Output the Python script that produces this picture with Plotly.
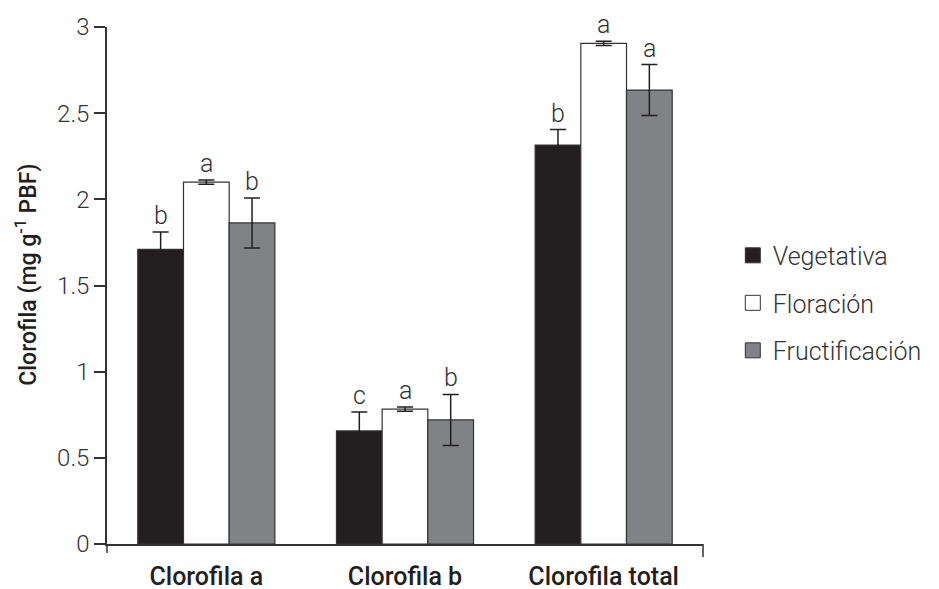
import plotly.graph_objects as go

categories = ["Clorofila a", "Clorofila b", "Clorofila total"]
series_names = ["Vegetativa", "Floración", "Fructificación"]
vegetativa = [1.71, 0.656, 2.315]
floracion = [2.10, 0.783, 2.905]
fructificacion = [1.863, 0.72, 2.634]
err_veg = [0.10, 0.11, 0.09]
err_flo = [0.012, 0.012, 0.012]
err_fru = [0.145, 0.148, 0.148]
letters_veg = ["b", "c", "b"]
letters_flo = ["a", "a", "a"]
letters_fru = ["b", "b", "a"]
y_ticks = [0, 0.5, 1, 1.5, 2, 2.5, 3]
y_tick_labels = ["0", "0.5", "1", "1.5", "2", "2.5", "3"]

values = [vegetativa, floracion, fructificacion]
errors = [err_veg, err_flo, err_fru]
letters = [letters_veg, letters_flo, letters_fru]
fills = ["#231f20", "#ffffff", "#808285"]

INK = "#231f20"
LIGHT = dict(family="Roboto", size=25, color="#333333", weight=300)
TICK = dict(family="Roboto", size=24, color="#333333", weight=300)

bargap = 0.31
bw = (1 - bargap) / 3
xpos = list(range(len(categories)))

fig = go.Figure()
for j, name in enumerate(series_names):
    fig.add_trace(go.Bar(
        x=xpos, y=values[j], name=name, offsetgroup=str(j),
        marker=dict(color=fills[j], line=dict(color="#333333", width=1.2)),
        error_y=dict(type="data", array=errors[j], visible=True,
                     color=INK, thickness=1.5, width=8),
        showlegend=False,
    ))
    # legend swatches
    fig.add_trace(go.Scatter(
        x=[None], y=[None], mode="markers", name=name, legendgroup=name,
        marker=dict(symbol="square", size=15, color=fills[j],
                    line=dict(color="#333333", width=1)),
    ))

annotations = []
for j in range(3):
    for i in xpos:
        annotations.append(dict(
            x=i + (j - 1) * bw, y=values[j][i] + errors[j][i], xref="x", yref="y",
            text=letters[j][i], showarrow=False, yanchor="bottom", yshift=0,
            font=LIGHT,
        ))

annotations.append(dict(
    x=-0.1349, y=0.52, xref="paper", yref="paper",
    text="Clorofila (mg g<sup>-1</sup> PBF)", textangle=-90, showarrow=False,
    xanchor="center", yanchor="middle",
    font=dict(family="Roboto", size=23, color=INK, weight=500),
))

shapes = [
    dict(type="line", xref="x domain", yref="y domain", x0=0, x1=0, y0=0, y1=-0.0174,
         line=dict(color="#333333", width=1.5)),
    dict(type="line", xref="x domain", yref="y domain", x0=1, x1=1, y0=0, y1=-0.025,
         line=dict(color="#333333", width=1.5)),
]

# page body has an 8px margin, so the figure is laid out 8px in from the top-left
fig.update_layout(
    width=931, height=581,
    margin=dict(l=99, r=224, t=19, b=45),
    paper_bgcolor="white", plot_bgcolor="white",
    barmode="group", bargap=bargap, bargroupgap=0,
    annotations=annotations, shapes=shapes,
    legend=dict(x=1.05, y=0.466, xanchor="left", yanchor="middle",
                font=LIGHT, tracegroupgap=12, bgcolor="rgba(0,0,0,0)"),
    xaxis=dict(range=[-0.5, 2.5], tickvals=xpos, ticktext=categories,
               showline=True, linecolor="#333333", linewidth=1.5, automargin=False,
               showgrid=False, zeroline=False, ticks="", ticklabelstandoff=9,
               tickfont=dict(family="Roboto", size=25, color=INK, weight=500)),
    yaxis=dict(range=[0, 3], tickvals=y_ticks, ticktext=y_tick_labels,
               showline=True, linecolor="#333333", linewidth=1.5, automargin=False,
               showgrid=False, zeroline=False, ticks="outside", ticklen=11,
               tickwidth=1.5, tickcolor="#333333", tickfont=TICK),
)

fig.write_html("out.html")
